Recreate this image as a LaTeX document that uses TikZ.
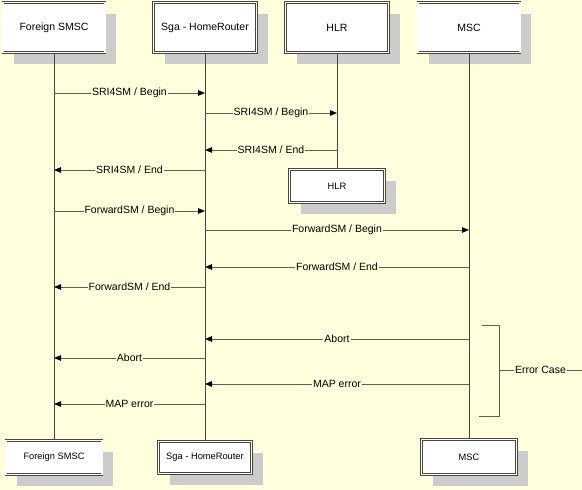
\documentclass[tikz,border=0pt]{standalone}
\usepackage{fontspec}
\setmainfont{Liberation Sans}
\usetikzlibrary{arrows.meta,shadows}
\definecolor{bgc}{RGB}{255,255,221}
\definecolor{linec}{RGB}{70,70,62}
\definecolor{msgc}{RGB}{95,95,80}
\definecolor{shadowc}{RGB}{204,204,204}
\newcommand{\bigf}{\fontsize{10.5}{12}\selectfont}
\newcommand{\smallf}{\fontsize{9.3}{11}\selectfont}
\tikzset{
  box/.style={draw=linec, double=white, double distance=1.4pt, line width=0.7pt,
    fill=white, inner sep=0pt, font=\bigf,
    general shadow={fill=shadowc, shadow xshift=11pt, shadow yshift=-11pt}},
  sbox/.style={box, font=\smallf},
  life/.style={draw=linec, line width=0.9pt},
  msg/.style={draw=msgc, line width=0.9pt, -{Triangle[length=7pt,width=5.5pt,color=black]}},
  lbl/.style={fill=bgc, inner sep=1pt, font=\bigf, text=black},
  brk/.style={draw=msgc, line width=0.9pt}
}
\begin{document}
\begin{tikzpicture}[x=1pt,y=-1pt]
\fill[bgc] (0,0) rectangle (582,490);
\useasboundingbox (0,0) rectangle (582,490);
% top boxes
\node[box, minimum width=102pt, minimum height=50pt] (fsT) at (54,27.5) {Foreign SMSC};
\node[box, minimum width=103pt, minimum height=50pt] (sgT) at (205,27.5) {Sga - HomeRouter};
\node[box, minimum width=103pt, minimum height=50pt] (hlT) at (337,27.5) {HLR};
\node[box, minimum width=102pt, minimum height=50pt] (msT) at (469,27.5) {MSC};
% bottom boxes
\node[sbox, minimum width=96pt, minimum height=34pt] (fsB) at (54,457.5) {Foreign SMSC};
\node[sbox, minimum width=93pt, minimum height=32pt] (sgB) at (205,457.5) {Sga - HomeRouter};
\node[sbox, minimum width=95pt, minimum height=35pt] (msB) at (469,457) {MSC};
\node[sbox, minimum width=95pt, minimum height=33pt] (hlB) at (337,186) {HLR};
% lifelines
\draw[life] (fsT.south) -- (fsB.north);
\draw[life] (sgT.south) -- (sgB.north);
\draw[life] (hlT.south) -- (hlB.north);
\draw[life] (msT.south) -- (msB.north);
% messages
\draw[msg] (fsT.south |- 0,93) -- node[lbl]{SRI4SM / Begin} (sgT.south |- 0,93);
\draw[msg] (sgT.south |- 0,113) -- node[lbl]{SRI4SM / Begin} (hlT.south |- 0,113);
\draw[msg] (hlT.south |- 0,150) -- node[lbl]{SRI4SM / End} (sgT.south |- 0,150);
\draw[msg] (sgT.south |- 0,170) -- node[lbl]{SRI4SM / End} (fsT.south |- 0,170);
\draw[msg] (fsT.south |- 0,211) -- node[lbl]{ForwardSM / Begin} (sgT.south |- 0,211);
\draw[msg] (sgT.south |- 0,230) -- node[lbl]{ForwardSM / Begin} (msT.south |- 0,230);
\draw[msg] (msT.south |- 0,267) -- node[lbl]{ForwardSM / End} (sgT.south |- 0,267);
\draw[msg] (sgT.south |- 0,287) -- node[lbl]{ForwardSM / End} (fsT.south |- 0,287);
\draw[msg] (msT.south |- 0,339) -- node[lbl]{Abort} (sgT.south |- 0,339);
\draw[msg] (sgT.south |- 0,358) -- node[lbl]{Abort} (fsT.south |- 0,358);
\draw[msg] (msT.south |- 0,384) -- node[lbl]{MAP error} (sgT.south |- 0,384);
\draw[msg] (sgT.south |- 0,404) -- node[lbl]{MAP error} (fsT.south |- 0,404);
% error case bracket
\coordinate (b1) at (482,325);
\coordinate (b2) at (499,325);
\coordinate (b3) at (499,416);
\coordinate (b4) at (479,416);
\coordinate (bm) at (499,370);
\coordinate (be) at (582,370);
\draw[brk] (b1) -- (b2) -- (b3) -- (b4);
\draw[brk] (bm) -- node[lbl]{Error Case} (be);
\end{tikzpicture}
\end{document}
